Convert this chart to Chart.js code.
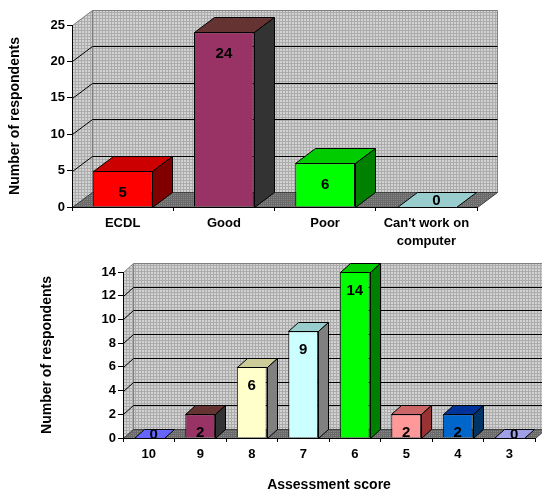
<!DOCTYPE html>
<html>
<head>
<meta charset="utf-8">
<script src="https://cdn.jsdelivr.net/npm/chart.js@4/dist/chart.umd.min.js"></script>
<style>
  body { margin: 0; background: #fff; }
  #wrap { position: relative; width: 542px; height: 495px; }
  canvas { position: absolute; left: 0; }
</style>
</head>
<body>
<div id="wrap">
  <canvas id="skills" width="542" height="250" style="top:0"></canvas>
  <canvas id="scores" width="542" height="245" style="top:250px"></canvas>
</div>
<script>
// chart data
const skillCategories = ['ECDL', 'Good', 'Poor', ["Can't work on", 'computer']];
const skillCounts = [5, 24, 6, 0];
const skillTicks = [0, 5, 10, 15, 20, 25];

const scoreCategories = ['10', '9', '8', '7', '6', '5', '4', '3'];
const scoreCounts = [0, 2, 6, 9, 14, 2, 2, 0];
const scoreTicks = [0, 2, 4, 6, 8, 10, 12, 14];

// bar colours: front, top, side faces
const skillFront = ['#ff0000', '#993366', '#00ff00', '#99cccc'];
const skillTop = ['#cc0000', '#663333', '#00cc00', '#99cccc'];
const skillSide = ['#800000', '#333333', '#008000', '#669999'];

const scoreFront = ['#6666ff', '#993366', '#ffffcc', '#ccffff', '#00ff00', '#ff9999', '#0066cc', '#9999ff'];
const scoreTop = ['#6666ff', '#663333', '#cccc99', '#99cccc', '#00cc00', '#cc6666', '#003399', '#a0a0e8'];
const scoreSide = ['#333399', '#333333', '#808080', '#808080', '#008000', '#993333', '#003366', '#666699'];

const FONT = "'Liberation Sans', Arial, sans-serif";
Chart.defaults.color = '#000';
Chart.defaults.font.family = FONT;

function makePattern(base, line, size) {
  const c = document.createElement('canvas');
  c.width = size; c.height = size;
  const g = c.getContext('2d');
  g.fillStyle = base;
  g.fillRect(0, 0, size, size);
  g.fillStyle = line;
  g.fillRect(0, 0, size, 1);
  g.fillRect(0, 0, 1, size);
  return c;
}

function poly(ctx, pts, fill, stroke) {
  ctx.beginPath();
  ctx.moveTo(pts[0][0], pts[0][1]);
  for (let i = 1; i < pts.length; i++) ctx.lineTo(pts[i][0], pts[i][1]);
  ctx.closePath();
  if (fill) { ctx.fillStyle = fill; ctx.fill(); }
  if (stroke) { ctx.strokeStyle = stroke; ctx.lineWidth = 1; ctx.stroke(); }
}

// draws the walls, floor and the depth faces of the bars
const box3d = {
  id: 'box3d',
  beforeDraw(chart, args, opts) {
    const { ctx, chartArea: a } = chart;
    const y = chart.scales.y;
    const dx = opts.dx, dy = opts.dy;
    const wall = ctx.createPattern(makePattern('#d2d2d2', '#acacac', 3), 'repeat');
    const floor = ctx.createPattern(makePattern('#888888', '#6a6a6a', 2), 'repeat');
    const L = Math.round(a.left) + 0.5, R = Math.round(a.right) + 0.5;
    const T = Math.round(a.top) + 0.5, B = Math.round(a.bottom) + 0.5;
    ctx.save();
    poly(ctx, [[L, B], [L, T], [L + dx, T - dy], [L + dx, B - dy]], wall, '#808080');
    poly(ctx, [[L + dx, T - dy], [R + dx, T - dy], [R + dx, B - dy], [L + dx, B - dy]], wall, '#808080');
    poly(ctx, [[L, B], [R, B], [R + dx, B - dy], [L + dx, B - dy]], floor, '#404040');
    ctx.strokeStyle = '#000';
    ctx.lineWidth = 1;
    y.ticks.forEach(t => {
      if (t.value === y.min || t.value === y.max) return;
      const py = Math.round(y.getPixelForValue(t.value)) + 0.5;
      ctx.beginPath();
      ctx.moveTo(L, py);
      ctx.lineTo(L + dx, py - dy);
      ctx.lineTo(R + dx, py - dy);
      ctx.stroke();
    });
    ctx.restore();
  },
  afterDatasetsDraw(chart, args, opts) {
    const { ctx } = chart;
    const dx = opts.dx, dy = opts.dy;
    const ds = chart.data.datasets[0];
    const meta = chart.getDatasetMeta(0);
    ctx.save();
    meta.data.forEach((bar, i) => {
      const x0 = Math.round(bar.x - bar.width / 2) + 0.5;
      const x1 = Math.round(bar.x + bar.width / 2) + 0.5;
      const top = Math.round(bar.y) + 0.5;
      const base = Math.round(bar.base) + 0.5;
      poly(ctx, [[x0, top], [x1, top], [x1 + dx, top - dy], [x0 + dx, top - dy]], opts.top[i], '#000');
      if (base - top > 0.5) {
        poly(ctx, [[x1, top], [x1 + dx, top - dy], [x1 + dx, base - dy], [x1, base]], opts.side[i], '#000');
      }
      ctx.fillStyle = '#000';
      ctx.font = 'bold 15px ' + FONT;
      ctx.textAlign = 'center';
      ctx.textBaseline = 'middle';
      const v = ds.data[i];
      if (v > 0) {
        ctx.fillText(String(v), bar.x, bar.y + opts.labelOffset);
      } else {
        ctx.fillText(String(v), bar.x + dx / 2, bar.base - dy / 2 + 1);
      }
    });
    ctx.restore();
  }
};

function buildChart(id, cats, values, ticks, cols, geo) {
  return new Chart(document.getElementById(id), {
    type: 'bar',
    data: {
      labels: cats,
      datasets: [{
        data: values,
        backgroundColor: cols.front,
        borderColor: '#000',
        borderWidth: 1,
        borderSkipped: 'bottom',
        barPercentage: geo.barPct,
        categoryPercentage: 1
      }]
    },
    options: {
      responsive: false,
      animation: false,
      events: [],
      layout: { padding: { left: 0, top: geo.top, right: geo.right, bottom: 0 } },
      plugins: {
        legend: { display: false },
        tooltip: { enabled: false },
        box3d: { dx: geo.dx, dy: geo.dy, labelOffset: geo.labelOffset, top: cols.top, side: cols.side }
      },
      scales: {
        x: {
          offset: true,
          grid: { offset: true, drawOnChartArea: false, drawTicks: true, tickLength: 4, color: '#000' },
          border: { display: true, color: '#000' },
          ticks: { padding: 4, font: { size: 13, weight: 'bold', lineHeight: 1.35 }, maxRotation: 0, autoSkip: false },
          title: geo.xTitle ? {
            display: true, text: geo.xTitle,
            font: { size: 14, weight: 'bold' }, padding: { top: 0, bottom: 1 }
          } : { display: false },
          afterFit(s) { s.height = geo.xHeight; }
        },
        y: {
          min: ticks[0],
          max: ticks[ticks.length - 1],
          ticks: { stepSize: ticks[1] - ticks[0], padding: 2, font: { size: 13, weight: 'bold' } },
          grid: { drawOnChartArea: false, drawTicks: true, tickLength: 5, color: '#000' },
          border: { display: true, color: '#000' },
          title: {
            display: true, text: 'Number of respondents',
            font: { size: 14, weight: 'bold' }, padding: { top: geo.titlePad, bottom: 0 }
          },
          afterFit(s) { s.width = geo.yWidth; }
        }
      }
    },
    plugins: [box3d]
  });
}

buildChart('skills', skillCategories, skillCounts, skillTicks,
  { front: skillFront, top: skillTop, side: skillSide },
  { top: 25, right: 65, yWidth: 72, xHeight: 43, dx: 20, dy: 15, barPct: 0.59, labelOffset: 22, titlePad: 7 });

buildChart('scores', scoreCategories, scoreCounts, scoreTicks,
  { front: scoreFront, top: scoreTop, side: scoreSide },
  { top: 22, right: 7, yWidth: 123, xHeight: 57, dx: 10, dy: 9, barPct: 0.58, labelOffset: 19, titlePad: 39, xTitle: 'Assessment score' });
</script>
</body>
</html>
